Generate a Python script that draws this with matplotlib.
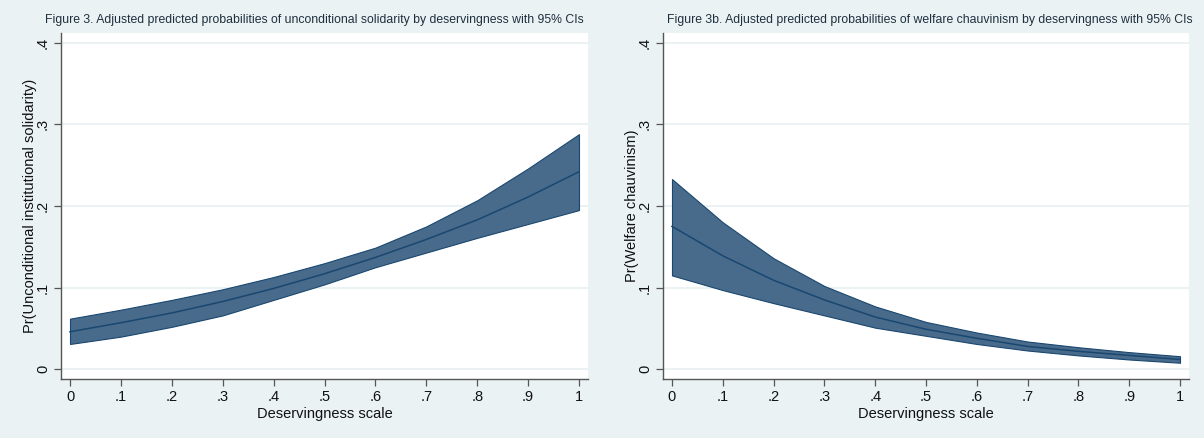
import matplotlib
matplotlib.use("Agg")
import matplotlib.pyplot as plt

# Data
x_vals = [0.0, 0.1, 0.2, 0.3, 0.4, 0.5, 0.6, 0.7, 0.8, 0.9, 1.0]

sol_mean = [0.046, 0.057, 0.069, 0.083, 0.099, 0.117, 0.137, 0.159, 0.183, 0.211, 0.242]
sol_lo = [0.031, 0.040, 0.052, 0.066, 0.085, 0.104, 0.125, 0.143, 0.161, 0.178, 0.195]
sol_hi = [0.062, 0.073, 0.085, 0.098, 0.113, 0.130, 0.149, 0.175, 0.207, 0.246, 0.288]

ch_mean = [0.175, 0.139, 0.109, 0.085, 0.064, 0.049, 0.038, 0.028, 0.022, 0.017, 0.012]
ch_lo = [0.115, 0.097, 0.081, 0.066, 0.051, 0.041, 0.031, 0.023, 0.017, 0.012, 0.008]
ch_hi = [0.233, 0.180, 0.136, 0.102, 0.077, 0.058, 0.045, 0.034, 0.027, 0.021, 0.016]

x_ticks = [0, 0.1, 0.2, 0.3, 0.4, 0.5, 0.6, 0.7, 0.8, 0.9, 1.0]
x_ticklabels = ["0", ".1", ".2", ".3", ".4", ".5", ".6", ".7", ".8", ".9", "1"]
y_ticks = [0, 0.1, 0.2, 0.3, 0.4]
y_ticklabels = ["0", ".1", ".2", ".3", ".4"]

titles = ["Figure 3. Adjusted predicted probabilities of unconditional solidarity by deservingness with 95% CIs",
          "Figure 3b. Adjusted predicted probabilities of welfare chauvinism by deservingness with 95% CIs"]
ylabels = ["Pr(Unconditional institutional solidarity)", "Pr(Welfare chauvinism)"]
xlabel = "Deservingness scale"

plt.rcParams['font.family'] = ['Liberation Sans', 'DejaVu Sans']

BG = "#EAF2F3"
FILL = "#486B8C"
LINE = "#1A476F"
AXC = "#555555"

fig = plt.figure(figsize=(12.04, 4.38), dpi=100, facecolor=BG)

W, H = 1204, 438
panels = [
    dict(left=61, right=588, top=33, bottom=379, title_x=45,
         mean=sol_mean, lo=sol_lo, hi=sol_hi),
    dict(left=663, right=1189, top=33, bottom=379, title_x=667,
         mean=ch_mean, lo=ch_lo, hi=ch_hi),
]

for i, p in enumerate(panels):
    ax = fig.add_axes([p['left'] / W, 1 - p['bottom'] / H,
                       (p['right'] - p['left']) / W, (p['bottom'] - p['top']) / H])
    ax.set_facecolor("white")
    ax.fill_between(x_vals, p['lo'], p['hi'], facecolor=FILL, edgecolor=LINE,
                    linewidth=0.8, zorder=2)
    ax.plot(x_vals, p['mean'], color=LINE, linewidth=1.1, zorder=3)
    ax.set_xlim(-0.0177, 1.0177)
    ax.set_ylim(-0.0119, 0.4119)
    ax.set_xticks(x_ticks)
    ax.set_xticklabels(x_ticklabels, fontsize=10.5)
    ax.set_yticks(y_ticks)
    ax.set_yticklabels(y_ticklabels, fontsize=10.5, rotation=90, va='center')
    ax.grid(axis='y', color=BG, linewidth=1.4, zorder=1)
    ax.set_axisbelow(True)
    for s in ['top', 'right']:
        ax.spines[s].set_visible(False)
    for s in ['left', 'bottom']:
        ax.spines[s].set_color(AXC)
        ax.spines[s].set_linewidth(1.0)
    ax.tick_params(axis='both', direction='out', length=5, width=0.9, color=AXC,
                   labelcolor="#111111", pad=3)
    ax.set_xlabel(xlabel, fontsize=10.5, color="#111111", labelpad=2)
    ax.set_ylabel(ylabels[i], fontsize=10.5, color="#111111", labelpad=-1)
    fig.text(p['title_x'] / W, 1 - 20 / H, titles[i], fontsize=8.8,
             color="#1f2f3f", ha='left', va='center')

fig.savefig("out.png", dpi=100, facecolor=BG)
